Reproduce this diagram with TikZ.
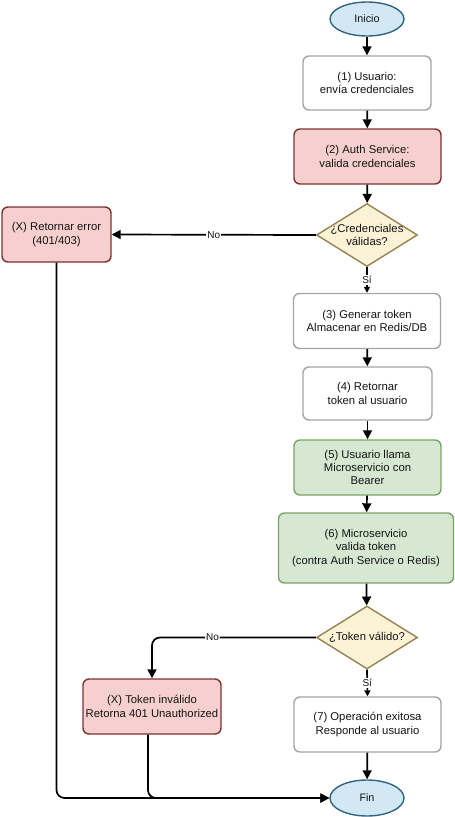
\documentclass[tikz,border=0pt]{standalone}
\usepackage{fontspec}
\setmainfont{Liberation Sans}
\usetikzlibrary{shapes.geometric,arrows.meta}
\definecolor{redfill}{RGB}{246,208,207}
\definecolor{reddraw}{RGB}{125,50,50}
\definecolor{greenfill}{RGB}{214,232,210}
\definecolor{greendraw}{RGB}{120,165,100}
\definecolor{yelfill}{RGB}{252,242,214}
\definecolor{yeldraw}{RGB}{150,130,80}
\definecolor{bluefill}{RGB}{210,232,245}
\definecolor{bluedraw}{RGB}{50,100,130}
\definecolor{greydraw}{RGB}{165,165,165}
\definecolor{txt}{RGB}{20,20,20}
\begin{document}
\begin{tikzpicture}[x=1pt,y=-1pt,
  base/.style={rectangle, rounded corners=6pt, line width=1.4pt, align=center, inner sep=0pt,
    font=\fontsize{11.3}{13.3}\selectfont, text=txt},
  whitebox/.style={base, draw=greydraw, fill=white},
  redbox/.style={base, draw=reddraw, fill=redfill},
  greenbox/.style={base, draw=greendraw, fill=greenfill},
  decision/.style={diamond, draw=yeldraw, fill=yelfill, line width=1.4pt, inner sep=0pt},
  terminal/.style={ellipse, draw=bluedraw, fill=bluefill, line width=1.4pt, inner sep=0pt,
    font=\fontsize{10.8}{13}\selectfont, text=txt},
  dtext/.style={align=center, font=\fontsize{11.3}{13.3}\selectfont, text=txt, inner sep=0pt},
  arr/.style={line width=1.7pt, -{Triangle[length=9pt,width=9pt]}},
  lbl/.style={fill=white, inner sep=1pt, font=\fontsize{10}{12}\selectfont, text=txt}
]
\useasboundingbox (0,0) rectangle (455,817);

\node[terminal, minimum width=74pt, minimum height=34pt] (ini) at (367,19) {Inicio};
\node[whitebox, minimum width=128pt, minimum height=54pt] (b1) at (367,83) {(1) Usuario:\\envía credenciales};
\node[redbox, minimum width=147pt, minimum height=55pt] (b2) at (367.5,156.5) {(2) Auth Service:\\valida credenciales};
\node[decision, minimum width=101pt, minimum height=63pt] (d1) at (367,235) {};
\node[dtext] (d1t) at (d1) {¿Credenciales\\válidas?};
\node[redbox, minimum width=109pt, minimum height=55pt] (err) at (56.5,234.5) {(X) Retornar error\\(401/403)};
\node[whitebox, minimum width=147pt, minimum height=55pt] (b3) at (367,321) {(3) Generar token\\Almacenar en Redis/DB};
\node[whitebox, minimum width=129pt, minimum height=53pt] (b4) at (367.5,393.5) {(4) Retornar\\token al usuario};
\node[greenbox, minimum width=147pt, minimum height=55pt] (b5) at (367.5,467.5) {(5) Usuario llama\\Microservicio con\\Bearer};
\node[greenbox, minimum width=175pt, minimum height=70pt] (b6) at (366,548) {(6) Microservicio\\valida token\\(contra Auth Service o Redis)};
\node[decision, minimum width=101pt, minimum height=63pt] (d2) at (367,637.5) {};
\node[dtext] (d2t) at (d2) {¿Token válido?};
\node[redbox, minimum width=138pt, minimum height=55pt] (tok) at (152,706.5) {(X) Token inválido\\Retorna 401 Unauthorized};
\node[whitebox, minimum width=147pt, minimum height=55pt] (b7) at (367.5,724.5) {(7) Operación exitosa\\Responde al usuario};
\node[terminal, minimum width=74pt, minimum height=36pt] (fin) at (367,798) {Fin};

\draw[arr] (ini) -- (b1);
\draw[arr] (b1) -- (b2);
\draw[arr] (b2) -- (d1);
\draw[arr] (d1.west) -- node[lbl] {No} (err.east);
\draw[arr, -{Triangle[length=6pt,width=6pt]}] (d1.south) -- node[lbl] {Sí} (b3.north);
\draw[arr] (b3) -- (b4);
\draw[arr] (b4) -- (b5);
\draw[arr] (b5) -- (b6);
\draw[arr] (b6) -- (d2);
\draw[arr, rounded corners=8pt] (d2.west) -| node[lbl, pos=0.315] {No} (tok.north);
\draw[arr, -{Triangle[length=6pt,width=6pt]}] (d2.south) -- node[lbl] {Sí} (b7.north);
\draw[arr] (b7) -- (fin);
\draw[arr, rounded corners=8pt] (err.south) |- (fin.west);
\draw[arr, rounded corners=8pt] ([xshift=-4pt]tok.south) |- (fin.west);
\end{tikzpicture}
\end{document}
